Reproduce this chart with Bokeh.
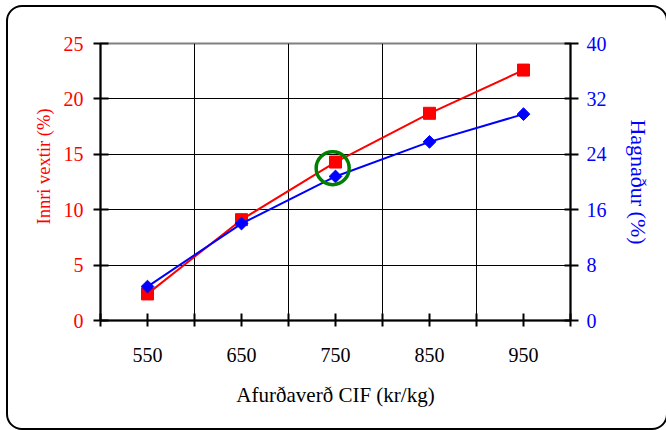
import numpy as np
from bokeh.plotting import figure
from bokeh.models import (Range1d, LinearAxis, FixedTicker, InlineStyleSheet, Title)
from bokeh.embed import file_html
from bokeh.resources import INLINE

# ---- data ----
categories = [550, 650, 750, 850, 950]
category_labels = ["550", "650", "750", "850", "950"]
innri_vextir = [2.4, 9.1, 14.3, 18.7, 22.6]      # left axis (%)
hagnadur = [4.9, 14.0, 20.8, 25.8, 29.8]         # right axis (%)
left_ticks = [0, 5, 10, 15, 20, 25]
right_ticks = [0, 8, 16, 24, 32, 40]
highlight_x = [747]
highlight_y = [13.75]

FONT = "Liberation Serif"
RED = "#FF0000"
BLUE = "#0000FF"

p = figure(width=666, height=430, output_backend="svg", toolbar_location=None,
           x_range=Range1d(500, 1000), y_range=Range1d(0, 25),
           min_border_left=100, min_border_right=96, min_border_top=43,
           min_border_bottom=110, x_axis_location=None, y_axis_location=None)

p.extra_y_ranges = {"right": Range1d(0, 40)}

p.background_fill_color = "white"
p.border_fill_color = "white"
p.outline_line_color = "#808080"
p.outline_line_width = 2

# outer rounded border (CSS on the plot host)
p.stylesheets = [InlineStyleSheet(css="""
:host { position: relative; }
:host::after {
  content: "";
  position: absolute;
  left: 6px; top: 5px; width: 662px; height: 425px;
  border: 2.5px solid black;
  border-radius: 16px;
  box-sizing: border-box;
  pointer-events: none;
  z-index: 10;
}
""")]

# bottom axis
bounds = [500, 600, 700, 800, 900, 1000]
xaxis = LinearAxis(ticker=FixedTicker(ticks=categories, minor_ticks=bounds),
                   major_label_overrides={c: l for c, l in zip(categories, category_labels)},
                   axis_label="Afurðaverð CIF (kr/kg)")
yaxis = LinearAxis(ticker=FixedTicker(ticks=left_ticks))
raxis = LinearAxis(y_range_name="right", ticker=FixedTicker(ticks=right_ticks),
                   axis_label="Hagnaður (%)")

for ax in (xaxis, yaxis, raxis):
    ax.axis_line_color = "black"
    ax.axis_line_width = 2
    ax.major_tick_line_color = "black"
    ax.major_tick_line_width = 2
    ax.minor_tick_line_color = "black"
    ax.minor_tick_line_width = 2
    ax.major_label_text_font = FONT
    ax.major_label_text_font_size = "20px"
    ax.axis_label_text_font = FONT
    ax.axis_label_text_font_size = "21px"
    ax.axis_label_text_font_style = "normal"

xaxis.major_tick_in = 7
xaxis.major_tick_out = 6
xaxis.minor_tick_in = 7
xaxis.minor_tick_out = 6
xaxis.major_label_standoff = 21
xaxis.axis_label_standoff = 18
xaxis.major_label_text_color = "black"
xaxis.axis_label_text_color = "black"

yaxis.major_tick_in = 8
yaxis.major_tick_out = 7
yaxis.minor_tick_line_color = None
yaxis.major_label_standoff = 10
yaxis.major_label_text_color = RED

raxis.major_tick_in = 6
raxis.major_tick_out = 8
raxis.minor_tick_line_color = None
raxis.major_label_standoff = 8
raxis.axis_label_standoff = 16
raxis.axis_label_text_font_size = "22px"
raxis.major_label_text_color = BLUE
raxis.axis_label_text_color = BLUE

p.add_layout(xaxis, "below")
p.add_layout(yaxis, "left")
p.add_layout(raxis, "right")

# left axis title, placed in the left panel outside the tick labels
ltitle = Title(text="Innri vextir (%)", align="left", offset=96,
               vertical_align="bottom", standoff=14,
               text_font=FONT, text_font_size="18.5px",
               text_font_style="normal", text_color=RED)
p.add_layout(ltitle, "left")

p.xgrid.ticker = FixedTicker(ticks=[600, 700, 800, 900])
p.ygrid.ticker = FixedTicker(ticks=[5, 10, 15, 20])
for g in (p.xgrid, p.ygrid):
    g.grid_line_color = "black"
    g.grid_line_width = 1
    g.grid_line_alpha = 1.0

# series
p.line(categories, innri_vextir, line_color=RED, line_width=2)
p.scatter(categories, innri_vextir, marker="square", size=12,
          fill_color=RED, line_color=RED)

p.line(categories, hagnadur, line_color=BLUE, line_width=2, y_range_name="right")
p.scatter(categories, hagnadur, marker="square", size=9, angle=np.pi / 4,
          fill_color=BLUE, line_color=BLUE, y_range_name="right")

# highlight circle
p.scatter(highlight_x, highlight_y, marker="circle", size=33, fill_color=None,
          line_color="#008000", line_width=3.5)

open("out.html", "w").write(file_html(p, INLINE))
